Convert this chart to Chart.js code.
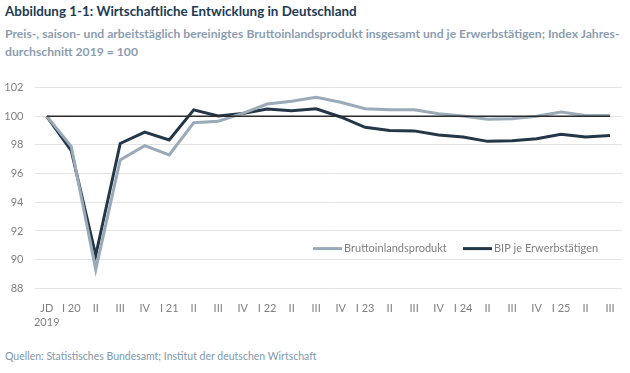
<!DOCTYPE html>
<html>
<head>
	<title>Wirtschaftliche Entwicklung in Deutschland</title>
	<script src="https://cdn.jsdelivr.net/npm/chart.js"></script>
	<style>
		body {
			margin: 0;
			width: 630px;
			height: 373px;
			background: #ffffff;
			font-family: Lato, "Open Sans", sans-serif;
			position: relative;
			overflow: hidden;
		}
		.title {
			position: absolute;
			left: 5px;
			top: 3px;
			font-size: 13.4px;
			font-weight: bold;
			color: #203a55;
		}
		.subtitle {
			position: absolute;
			left: 5px;
			top: 25px;
			width: 625px;
			font-size: 12.2px;
			font-weight: bold;
			line-height: 18px;
			color: #8b9db0;
			white-space: nowrap;
		}
		.source {
			position: absolute;
			left: 5px;
			top: 350px;
			font-size: 10.5px;
			color: #7f98ad;
		}
		#wrap {
			position: absolute;
			left: 0;
			top: 70px;
			width: 630px;
			height: 260px;
		}
	</style>
</head>
<body>
	<div class="title">Abbildung 1-1: Wirtschaftliche Entwicklung in Deutschland</div>
	<div class="subtitle">Preis-, saison- und arbeitstäglich bereinigtes Bruttoinlandsprodukt insgesamt und je Erwerbstätigen; Index Jahres-<br>durchschnitt 2019 = 100</div>
	<div id="wrap"><canvas id="chart" width="630" height="260"></canvas></div>
	<div class="source">Quellen: Statistisches Bundesamt; Institut der deutschen Wirtschaft</div>
<script>
// Quartale, JD = Jahresdurchschnitt 2019
var categories = [['JD', '2019'], 'I 20', 'II', 'III', 'IV', 'I 21', 'II', 'III', 'IV', 'I 22', 'II', 'III',
	'IV', 'I 23', 'II', 'III', 'IV', 'I 24', 'II', 'III', 'IV', 'I 25', 'II', 'III'];

var bip = [100, 97.9, 89.3, 96.95, 97.95, 97.3, 99.55, 99.65, 100.2, 100.85, 101.05, 101.32,
	100.98, 100.52, 100.45, 100.45, 100.18, 100.02, 99.8, 99.82, 100.0, 100.3, 100.05, 100.05];

var bipJeErw = [100, 97.6, 90.3, 98.1, 98.9, 98.35, 100.45, 100.02, 100.2, 100.5, 100.39, 100.52,
	99.95, 99.23, 99.0, 98.98, 98.7, 98.55, 98.25, 98.3, 98.43, 98.75, 98.55, 98.66];

var yTicks = [88, 90, 92, 94, 96, 98, 100, 102];
var baseline = 100;

var lightColor = '#9aaab9';
var darkColor = '#243748';

// Legende im Diagramm
var legendPlugin = {
	id: 'innerLegend',
	afterDraw: function(chart) {
		var ctx = chart.ctx;
		var y = chart.chartArea.top + 161;
		var items = [
			{ ds: chart.data.datasets[1], x: 313 },
			{ ds: chart.data.datasets[2], x: 463 }
		];
		ctx.save();
		ctx.font = '11px Lato';
		ctx.textBaseline = 'middle';
		items.forEach(function(it) {
			ctx.strokeStyle = it.ds.borderColor;
			ctx.lineWidth = 3;
			ctx.beginPath();
			ctx.moveTo(it.x, y);
			ctx.lineTo(it.x + 29, y);
			ctx.stroke();
			ctx.fillStyle = '#808080';
			ctx.fillText(it.ds.label, it.x + 31, y);
		});
		ctx.restore();
	}
};

new Chart(document.getElementById('chart'), {
	type: 'line',
	data: {
		labels: categories,
		datasets: [
			{
				label: 'Basis',
				data: categories.map(function() { return baseline; }),
				borderColor: '#2b2b2b',
				borderWidth: 1.5,
				pointRadius: 0,
				tension: 0
			},
			{
				label: 'Bruttoinlandsprodukt',
				data: bip,
				borderColor: lightColor,
				borderWidth: 3,
				pointRadius: 0,
				tension: 0
			},
			{
				label: 'BIP je Erwerbstätigen',
				data: bipJeErw,
				borderColor: darkColor,
				borderWidth: 3,
				pointRadius: 0,
				tension: 0
			}
		]
	},
	options: {
		responsive: false,
		animation: false,
		layout: { padding: { top: 13.3, right: 7.7, left: 0, bottom: 0 } },
		plugins: {
			legend: { display: false },
			tooltip: { enabled: false }
		},
		scales: {
			x: {
				offset: true,
				grid: { display: false },
				border: { display: false },
				ticks: {
					color: '#808080',
					font: { family: 'Lato', size: 11 },
					padding: 6,
					maxRotation: 0,
					autoSkip: false
				},
				afterFit: function(scale) { scale.height = 41.7; }
			},
			y: {
				min: 88,
				max: 102,
				afterBuildTicks: function(scale) {
					scale.ticks = yTicks.map(function(v) { return { value: v }; });
				},
				grid: { color: '#e3e3e3', lineWidth: 1, drawTicks: false },
				border: { display: false },
				ticks: {
					color: '#808080',
					font: { family: 'Lato', size: 11 },
					padding: 11
				},
				afterFit: function(scale) { scale.width = 34.5; }
			}
		}
	},
	plugins: [legendPlugin]
});
</script>
</body>
</html>
